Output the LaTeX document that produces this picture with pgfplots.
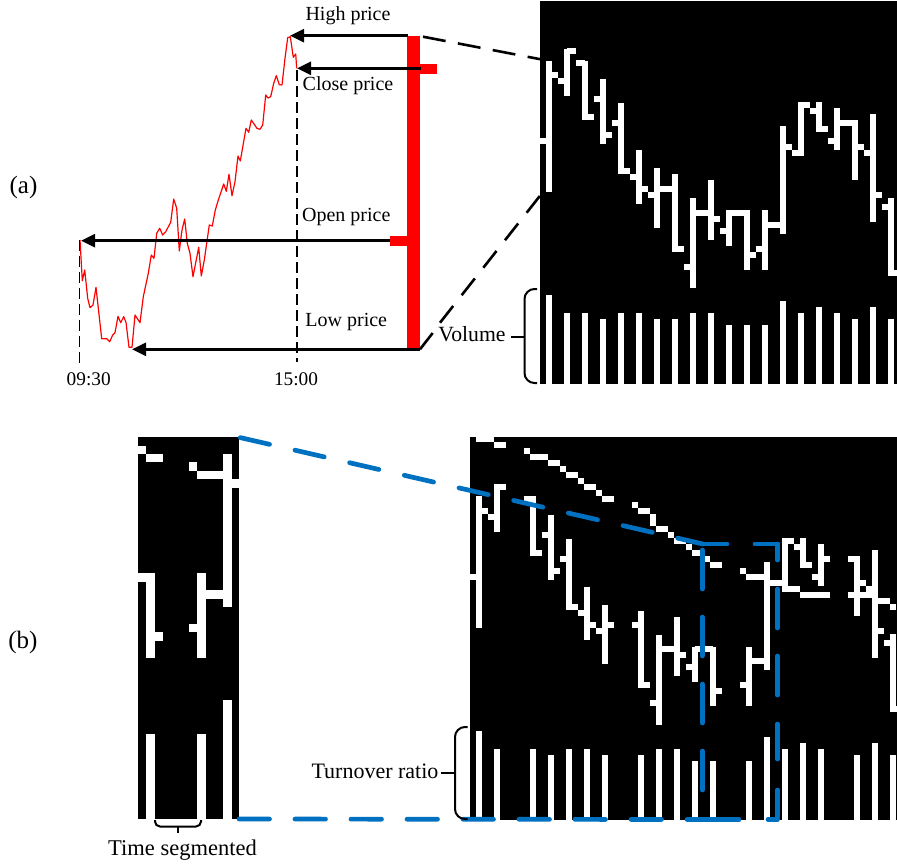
\documentclass[border=0pt]{standalone}
\usepackage{pgfplots}
\pgfplotsset{compat=1.18}
\usepackage{fontspec}
\setmainfont{Liberation Serif}
\usetikzlibrary{arrows.meta}
\definecolor{bl}{HTML}{0070C0}
% white bar with open and close ticks: x, high, low, open, close
\newcommand{\ohlc}[5]{%
  \pgfmathsetmacro\xa{#1-9}\pgfmathsetmacro\xb{min(#1+9,897)}%
  \addplot[white,line width=6pt,line cap=butt] coordinates {(#1,#2)(#1,#3)};
  \addplot[white,line width=6pt,line cap=butt] coordinates {(\xa,#4)(#1,#4)};
  \addplot[white,line width=6pt,line cap=butt] coordinates {(#1,#5)(\xb,#5)};
}
% white segment: width, x1, y1, x2, y2
\newcommand{\wseg}[5]{\addplot[white,line width=#1pt,line cap=butt] coordinates {(#2,#3)(#4,#5)};}
% volume bar: x, top, bottom
\newcommand{\vol}[3]{\addplot[white,line width=6pt,line cap=butt] coordinates {(#1,#2)(#1,#3)};}
% blue dash
\newcommand{\bseg}[4]{\addplot[bl,line width=4.7pt,line cap=round] coordinates {(#1,#2)(#3,#4)};}
\begin{document}
\begin{tikzpicture}
\path[use as bounding box] (0,0) rectangle (897pt,865pt);
\begin{axis}[at={(0,0)},anchor=south west,scale only axis,width=897pt,height=865pt,xmin=0,xmax=897,ymin=0,ymax=865,
  y dir=reverse,hide axis,clip=false]
\addplot[draw=none,fill=white] coordinates {(0,0)(897,0)(897,865)(0,865)} --cycle;
% ---------- panel (a) black image
\addplot[draw=none,fill=black] coordinates {(540,1)(897,1)(897,383.5)(540,383.5)} --cycle;
\ohlc{548.7}{61}{192.3}{141}{75}
\ohlc{566.7}{48.7}{96.3}{81}{51}
\ohlc{584.7}{60.7}{120.3}{63}{117}
\ohlc{602.7}{78.7}{144.3}{99}{135}
\ohlc{620.7}{102.7}{174.3}{123}{171}
\ohlc{638.7}{150.3}{204.3}{177}{189}
\ohlc{656.7}{168.3}{228.3}{195}{189}
\ohlc{674.7}{174.3}{252.3}{189}{249}
\ohlc{692.7}{198.3}{288.3}{267}{213}
\ohlc{710.7}{180.3}{240.3}{213}{219}
\ohlc{728.7}{210.3}{246.3}{231}{213}
\ohlc{746.7}{210.3}{270.3}{213}{255}
\ohlc{764.7}{210.3}{270.3}{249}{225}
\ohlc{782.7}{126.3}{234.3}{225}{147}
\ohlc{800.7}{102.3}{156.3}{153}{105}
\ohlc{818.7}{102.3}{132.3}{111}{129}
\ohlc{836.7}{108.3}{150.3}{141}{123}
\ohlc{854.7}{120.3}{180.3}{123}{147}
\ohlc{872.7}{114.3}{222.3}{153}{195}
\ohlc{890.7}{198.3}{276.3}{207}{273}
\vol{548.7}{294.7}{383.5}\vol{566.7}{312.7}{383.5}\vol{584.7}{312.7}{383.5}\vol{602.7}{318.7}{383.5}
\vol{620.7}{312.7}{383.5}\vol{638.7}{312.7}{383.5}\vol{656.7}{318.7}{383.5}\vol{674.7}{318.7}{383.5}
\vol{692.7}{312.7}{383.5}\vol{710.7}{312.7}{383.5}\vol{728.7}{324.7}{383.5}\vol{746.7}{324.7}{383.5}
\vol{764.7}{324.7}{383.5}\vol{782.7}{300.7}{383.5}\vol{800.7}{312.7}{383.5}\vol{818.7}{306.7}{383.5}
\vol{836.7}{312.7}{383.5}\vol{854.7}{318.7}{383.5}\vol{872.7}{306.7}{383.5}\vol{890.7}{318.7}{383.5}
% ---------- panel (a) price line
\addplot[red,line width=1.2pt,line join=round] coordinates {
(80,240)(82.3,280.7)(84.7,270)(87.7,298.3)(90,307.7)(93,305)(96,287.3)(101.7,338.7)(106.7,338.7)
(109.7,341.7)(112.7,335)(115,332.7)(118,316.3)(120.7,322.7)(123.7,316.7)(126,322.3)(129,347.3)(132,347.3)
(135,315)(140,322.7)(143.3,296.7)(148.3,273.3)(151.3,255)(154,258.3)(156.7,233.3)(159.7,228.3)(162.7,235)
(165.7,231.7)(170.7,222.3)(173.7,199)(176.7,208.3)(179.3,251)(182,230)(184.7,219)(187.3,243.3)(190,253.3)
(193,276.7)(198.7,247.3)(201.3,276)(204.3,260)(209.3,225)(212.3,226)(215.3,210)(218.3,200)(221.7,190)
(223.7,184)(226.3,191.3)(229,174.3)(232,195.7)(235,181.7)(238,156)(240.3,161)(246,128.3)(248.7,132.3)
(251.3,120)(257,128.3)(260,129.3)(262.7,125)(265.7,95)(268,98)(270.7,96.7)(273.7,83.3)(276.3,75.7)
(279.3,84.7)(282,85)(285,58.3)(287.7,37.7)(290.3,36.7)(293.3,57.3)(295.7,54)(296.7,68.3)};
\addplot[black,line width=1.2pt,dash pattern=on 11pt off 5pt] coordinates {(79.3,240)(79.3,362.5)};
\addplot[black,line width=1.2pt,dash pattern=on 11pt off 5pt] coordinates {(297,70)(297,361.5)};
% red OHLC bar
\addplot[red,line width=12.7pt,line cap=butt] coordinates {(413.7,35.7)(413.7,348.5)};
\addplot[red,line width=10pt,line cap=butt] coordinates {(390,240.5)(408,240.5)};
\addplot[red,line width=10pt,line cap=butt] coordinates {(419,69)(437.3,69)};
% arrows
\addplot[black,line width=2.7pt,-{Triangle[length=14pt,width=13pt]}] coordinates {(408,35.7)(290,35.7)};
\addplot[black,line width=2.7pt,-{Triangle[length=14pt,width=13pt]}] coordinates {(421,68.3)(297,68.3)};
\addplot[black,line width=2.7pt,-{Triangle[length=14pt,width=13pt]}] coordinates {(390,240.7)(81,240.7)};
\addplot[black,line width=2.7pt,-{Triangle[length=14pt,width=13pt]}] coordinates {(420,349.3)(132,349.3)};
% zoom guides
\addplot[black,line width=2.6pt,dash pattern=on 23pt off 12.5pt] coordinates {(423,36.7)(540.7,59.3)};
\addplot[black,line width=2.6pt] coordinates {(420,349.3)(432.7,333)};
\addplot[black,line width=2.6pt,dash pattern=on 21.3pt off 13.7pt] coordinates {(440,322.7)(541,194.5)};
% volume brace
\addplot[black,line width=2pt,rounded corners=10pt] coordinates {(537,289)(524.5,289)(524.5,383)(537,383)};
\addplot[black,line width=2pt] coordinates {(510.7,336.7)(524.5,336.7)};
% ---------- panel (b) left crop
\addplot[draw=none,fill=black] coordinates {(137.7,437.3)(239,437.3)(239,818.5)(137.7,818.5)} --cycle;
\wseg{8.5}{137.7}{449.8}{146.3}{449.8}
\wseg{8.5}{146.3}{458.2}{163.3}{458.2}
\wseg{8.5}{189}{466.5}{197.3}{466.5}
\wseg{8.5}{197.3}{475}{223}{475}
\wseg{8.5}{227.3}{453.7}{227.3}{606.7}
\wseg{8.5}{231.7}{483.5}{239}{483.5}
\wseg{8.5}{206}{594.3}{223}{594.3}
\wseg{8.5}{201.7}{573}{201.7}{658}
\wseg{8.5}{189}{628.2}{197.3}{628.2}
\wseg{8.5}{150.7}{573}{150.7}{658}
\wseg{8.5}{137.7}{577.3}{146.3}{577.3}
\wseg{8.5}{155}{636.7}{163.3}{636.7}
\wseg{8.5}{150.7}{734.3}{150.7}{818.5}
\wseg{8.5}{201.7}{734.3}{201.7}{818.5}
\wseg{8.5}{227.3}{700.3}{227.3}{818.5}
% ---------- panel (b) right image
\addplot[draw=none,fill=black] coordinates {(469.5,436.5)(897,436.5)(897,820)(469.5,820)} --cycle;
\wseg{6}{475.7}{439.3}{493.7}{439.3}
\wseg{6}{493.7}{445.3}{505.7}{445.3}
\wseg{6}{523.7}{451.3}{529.7}{451.3}
\wseg{6}{529.7}{457.3}{547.7}{457.3}
\wseg{6}{547.7}{463.3}{559.7}{463.3}
\wseg{6}{559.7}{469.3}{565.7}{469.3}
\wseg{6}{565.7}{475.3}{577.7}{475.3}
\wseg{6}{577.7}{481.3}{583.7}{481.3}
\wseg{6}{583.7}{487.3}{595.7}{487.3}
\wseg{6}{595.7}{493.3}{601.7}{493.3}
\wseg{6}{601.7}{499.3}{613.7}{499.3}
\wseg{6}{631.7}{505.3}{637.7}{505.3}
\wseg{6}{637.7}{511.3}{649.7}{511.3}
\wseg{6}{652.7}{514.3}{652.7}{526.3}
\wseg{6}{655.7}{529.3}{667.7}{529.3}
\wseg{6}{667.7}{535.3}{673.7}{535.3}
\wseg{6}{673.7}{541.3}{685.7}{541.3}
\wseg{6}{685.7}{547.3}{691.7}{547.3}
\wseg{6}{691.7}{553.3}{703.7}{553.3}
\wseg{6}{703.7}{559.3}{709.7}{559.3}
\wseg{6}{709.7}{565.3}{721.7}{565.3}
\wseg{6}{739.7}{571.3}{745.7}{571.3}
\wseg{6}{745.7}{577.3}{763.7}{577.3}
\wseg{6}{769.7}{583.3}{781.7}{583.3}
\wseg{6}{787.7}{589.3}{799.7}{589.3}
\wseg{6}{799.7}{595.3}{829.7}{595.3}
\wseg{6}{847.7}{595.3}{877}{595.3}
\wseg{6}{865.7}{589.3}{871.7}{589.3}
\wseg{6}{877.7}{601.3}{889.7}{601.3}
\wseg{6}{889.7}{607.3}{895.7}{607.3}
\ohlc{478.7}{496.3}{628.3}{577.3}{511.3}
\ohlc{496.7}{484.3}{532.3}{517.3}{487.3}
\ohlc{532.7}{496.3}{556.3}{499.3}{553.3}
\ohlc{550.7}{514.7}{580.3}{535.3}{571.3}
\ohlc{568.7}{538.7}{610.3}{559.3}{607.3}
\ohlc{586.7}{586.7}{640.3}{613.3}{625.3}
\ohlc{604.7}{604.7}{664.3}{631.3}{625.3}
\ohlc{640.7}{611}{688.3}{625.3}{685.3}
\ohlc{658.7}{635}{724.7}{703.3}{649.3}
\ohlc{676.7}{617}{676.3}{649.3}{655.3}
\ohlc{694.7}{646.7}{682.3}{667.3}{649.3}
\ohlc{712.7}{646.7}{706.3}{649.3}{691.3}
\ohlc{748.7}{646.7}{706.3}{685.3}{661.3}
\ohlc{766.7}{562.3}{670.3}{661.3}{583.3}
\ohlc{784.7}{538.3}{592.3}{583.3}{541.3}
\ohlc{802.7}{538.3}{568.3}{547.3}{565.3}
\ohlc{820.7}{544.3}{586.3}{577.3}{559.3}
\ohlc{856.7}{556.3}{616.3}{559.3}{583.3}
\ohlc{874.7}{550.3}{658.3}{589.3}{631.3}
\ohlc{892.7}{634.3}{712.3}{643.3}{709.3}
\vol{478.7}{731}{820}\vol{496.7}{749}{820}\vol{532.7}{749}{820}\vol{550.7}{755}{820}
\vol{568.7}{749}{820}\vol{586.7}{749}{820}\vol{604.7}{755}{820}\vol{640.7}{755}{820}
\vol{658.7}{749}{820}\vol{676.7}{749}{820}\vol{694.7}{761}{820}\vol{712.7}{761}{820}
\vol{748.7}{761}{820}\vol{766.7}{737}{820}\vol{784.7}{749}{820}\vol{802.7}{743}{820}
\vol{820.7}{749}{820}\vol{856.7}{755}{820}\vol{874.7}{743}{820}\vol{892.7}{755}{820}
% ---------- blue guides
\addplot[bl,line width=4.7pt,line cap=round,dash pattern=on 30pt off 26.1pt] coordinates {(240.3,437.6)(703,544)};
\addplot[bl,line width=4.7pt,line cap=round,dash pattern=on 30.5pt off 25.5pt] coordinates {(239,819)(703,819.5)};
\bseg{702.3}{544}{727}{544}
\bseg{755}{544}{777.5}{544}
\bseg{777.5}{544}{777.5}{560}
\bseg{777.5}{589}{777.5}{628}
\bseg{777.5}{656}{777.5}{695}
\bseg{777.5}{724}{777.5}{759}
\bseg{777.5}{790}{777.5}{817}
\bseg{777.5}{819.5}{768}{819.5}
\bseg{702.3}{550}{702.3}{589}
\bseg{702.3}{617}{702.3}{656}
\bseg{702.3}{684}{702.3}{723}
\bseg{702.3}{751}{702.3}{790}
\bseg{702.3}{819.5}{739}{819.5}
% brace turnover, time segmented
\addplot[black,line width=2pt,rounded corners=10pt] coordinates {(467.5,727)(455,727)(455,819)(467.5,819)};
\addplot[black,line width=2pt] coordinates {(441,772.7)(455,772.7)};
\addplot[black,line width=2pt,rounded corners=5pt] coordinates {(155,820)(155,826.5)(201,826.5)(201,820)};
\addplot[black,line width=2pt] coordinates {(178.3,826.5)(178.3,833)};
% ---------- text
\tikzset{lbl/.style={anchor=base,inner sep=0pt}}
\node[lbl] at (axis cs:23.5,193.3) {\fontsize{25}{30}\selectfont (a)};
\node[lbl] at (axis cs:23,648) {\fontsize{25}{30}\selectfont (b)};
\node[lbl] at (axis cs:348,20) {\fontsize{20}{24}\selectfont High price};
\node[lbl] at (axis cs:348,90) {\fontsize{20}{24}\selectfont Close price};
\node[lbl] at (axis cs:346.3,221.7) {\fontsize{20}{24}\selectfont Open price};
\node[lbl] at (axis cs:346.3,326) {\fontsize{20}{24}\selectfont Low price};
\node[lbl] at (axis cs:472,341.7) {\fontsize{21.7}{26}\selectfont Volume};
\node[lbl] at (axis cs:88.7,385.7) {\fontsize{19.3}{24}\selectfont 09:30};
\node[lbl] at (axis cs:296,385.7) {\fontsize{19.3}{24}\selectfont 15:00};
\node[lbl] at (axis cs:375,778) {\fontsize{22}{26}\selectfont Turnover ratio};
\node[lbl] at (axis cs:182.5,855) {\fontsize{22.5}{27}\selectfont Time segmented};
\end{axis}
\end{tikzpicture}
\end{document}
